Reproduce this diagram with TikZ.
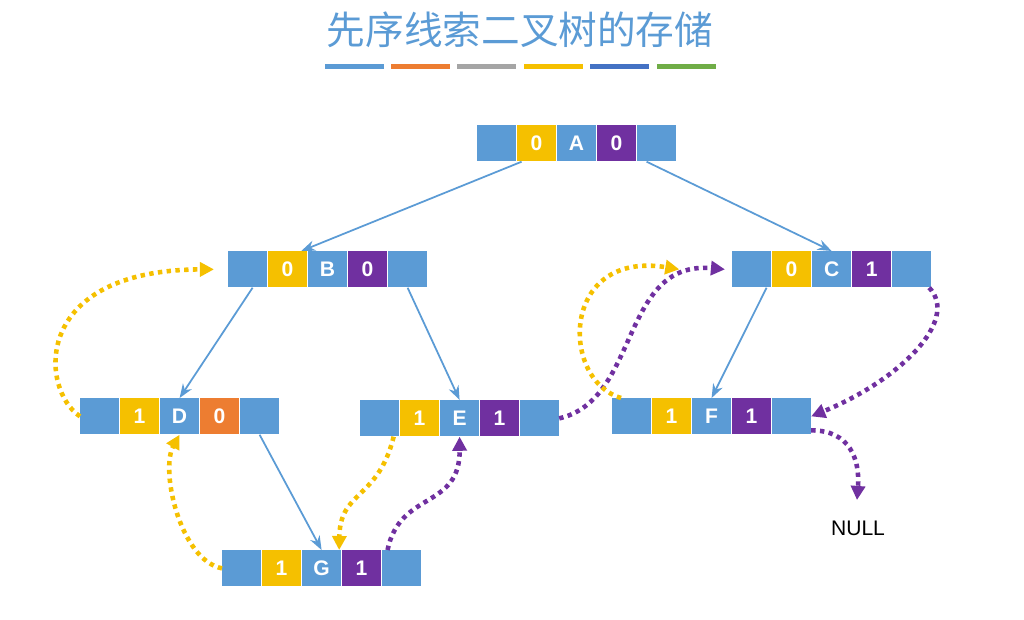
\documentclass[tikz,border=0pt]{standalone}
\usepackage{fontspec}
\setmainfont{Liberation Sans}
\newfontfamily\cjk{Noto Sans CJK SC}
\usetikzlibrary{arrows.meta}
\definecolor{cb}{HTML}{5B9BD5}
\definecolor{cy}{HTML}{F5C000}
\definecolor{cp}{HTML}{7030A0}
\definecolor{co}{HTML}{ED7D31}
\definecolor{cg}{HTML}{A5A5A5}
\definecolor{cd}{HTML}{4472C4}
\definecolor{cgr}{HTML}{70AD47}
\tikzset{
 cell/.style={minimum width=38.5*0.02cm,minimum height=36*0.02cm,inner sep=0,text=white,font=\bfseries\large},
 tree/.style={draw=cb,line width=1pt,-{Stealth[length=8pt,width=6pt]}},
 thy/.style={draw=cy,line width=2.6pt,dash pattern=on 2.5pt off 2.5pt,-{Triangle[length=8pt,width=8pt]}},
 thp/.style={draw=cp,line width=2.6pt,dash pattern=on 2.5pt off 2.5pt,-{Triangle[length=8pt,width=8pt]}},
}
\newcommand{\tnode}[8]{% name x y c2 l c3 lbl2 lbl3
 \node[cell,fill=cb,anchor=north west] (#1a) at (#2,#3) {};
 \node[cell,fill=#4,anchor=north west] (#1b) at (#2+40,#3) {#7};
 \node[cell,fill=cb,anchor=north west] (#1) at (#2+80,#3) {#5};
 \node[cell,fill=#6,anchor=north west] (#1c) at (#2+120,#3) {#8};
 \node[cell,fill=cb,anchor=north west] (#1d) at (#2+160,#3) {};
}
\begin{document}
\begin{tikzpicture}[x=0.02cm,y=-0.02cm]
\useasboundingbox (0,0) rectangle (1024,619);
\node[text=cb,font=\cjk\fontsize{22}{26}\selectfont] (title) at (520,30) {先序线索二叉树的存储};
\foreach \x/\c [count=\i] in {325/cb,391/co,457/cg,524/cy,590/cd,657/cgr}
  \fill[\c] (\x,64) rectangle ++(59,5);
\tnode{A}{477}{125}{cy}{A}{cp}{0}{0}
\tnode{B}{228}{251}{cy}{B}{cp}{0}{0}
\tnode{C}{732}{251}{cy}{C}{cp}{0}{1}
\tnode{D}{80}{398}{cy}{D}{co}{1}{0}
\tnode{E}{360}{400}{cy}{E}{cp}{1}{1}
\tnode{F}{612}{398}{cy}{F}{cp}{1}{1}
\tnode{G}{222}{550}{cy}{G}{cp}{1}{1}
\node[font=\large] (null) at (858,528) {NULL};
\coordinate (nullt) at (857,500);
% tree edges
\draw[tree] (Ab.south) ++(-15,0) -- ([xshift=-15pt]B.north);
\draw[tree] (Ad.south) ++(-10,0) -- (C.north);
\draw[tree] (Ba.south) ++(5,0) -- (D.north);
\draw[tree] (Bd.south) -- (E.north);
\draw[tree] (Dd.south) -- (G.north);
\draw[tree] (Ca.south) ++(15,0) -- (F.north);
% threads
\draw[thy] (Da.west) .. controls (40,390) and (30,270) .. ([xshift=-8pt]Ba.west);
\draw[thy] (Ga.west) .. controls (180,560) and (160,470) .. (D.south);
\draw[thy] ([xshift=8pt]Ea.south) .. controls (378,500) and (340,490) .. ([xshift=10pt]G.north);
\draw[thp] ([xshift=-8pt]Gd.north) .. controls (400,490) and (460,510) .. (E.south);
\draw[thp] (Ed.east) .. controls (640,400) and (620,260) .. ([xshift=-4pt]Ca.west);
\draw[thy] ([xshift=-6pt]Fa.north) .. controls (560,380) and (560,250) .. ([xshift=-30pt]Ca.west);
\draw[thp] ([xshift=10pt]Cd.south) .. controls (960,320) and (900,380) .. (Fd.east);
\draw[thp] ([yshift=-8pt]Fd.east) .. controls (850,430) and (860,460) .. (nullt);
\end{tikzpicture}
\end{document}
